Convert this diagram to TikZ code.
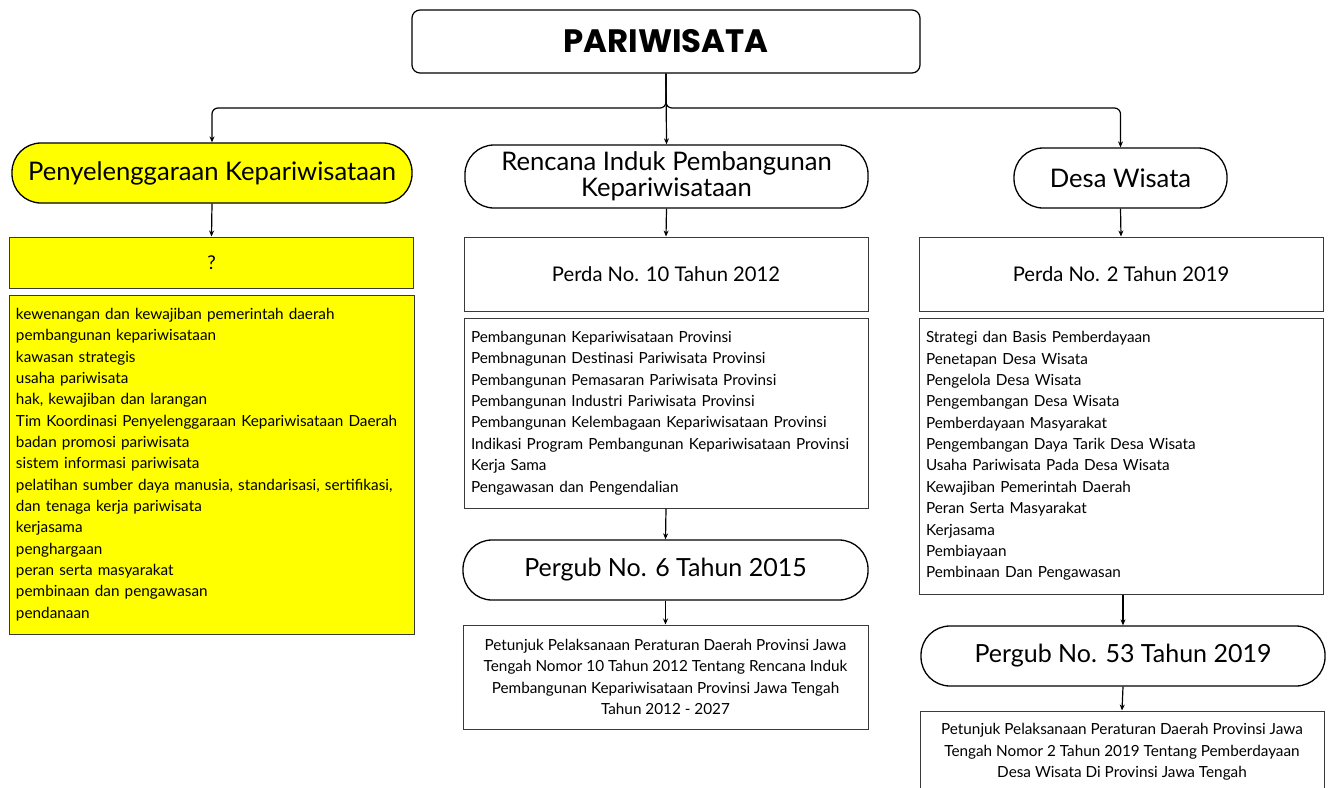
\documentclass[tikz,border=0pt]{standalone}
\usepackage{fontspec}
\setmainfont{Lato}
\newfontfamily\titlefont{Poppins}
\usetikzlibrary{arrows.meta}
\definecolor{ylw}{HTML}{FFFF00}
\definecolor{edge}{HTML}{3A3A3A}
\begin{document}
\begin{tikzpicture}[x=1pt,y=-1pt,
  arr/.style={-{Stealth[length=6pt,width=5pt]}, line width=1.2pt, black},
  oval/.style={draw=black, line width=1.3pt, rounded corners=29pt, inner sep=0pt, align=center},
  plainbox/.style={draw=edge, line width=1pt, inner sep=0pt, align=center},
  listbox/.style={draw=edge, line width=1pt, inner xsep=7pt, inner ysep=0pt, align=left,
     font=\fontsize{15.3}{21.36}\selectfont},
  headtxt/.style={font=\fontsize{25.6}{26}\selectfont},
  lawtxt/.style={font=\fontsize{20.2}{24}\selectfont},
  pergubtxt/.style={font=\fontsize{25}{28}\selectfont},
  notetxt/.style={font=\fontsize{15.3}{21.5}\selectfont}]
\clip (0,0) rectangle (1330,787);
\fill[white] (0,0) rectangle (1330,787);

% title
\node[draw=black, line width=1.2pt, rounded corners=8pt, minimum width=508pt, minimum height=63pt,
  font=\titlefont\bfseries\fontsize{32.4}{36}\selectfont] (title) at (666,41.5) {PARIWISATA};

% left column
\node[oval, fill=ylw, minimum width=400pt, minimum height=60pt, headtxt] (pk) at (212,173) {Penyelenggaraan Kepariwisataan};
\node[plainbox, fill=ylw, minimum width=404pt, minimum height=51pt, font=\fontsize{19}{22}\selectfont] (q) at (211.5,262.5) {?};
\node[listbox, fill=ylw, minimum width=405pt, minimum height=339pt, text width=391pt] (ql) at (211.5,464.5) {%
kewenangan dan kewajiban pemerintah daerah\\
pembangunan kepariwisataan\\
kawasan strategis\\
usaha pariwisata\\
hak, kewajiban dan larangan\\
Tim Koordinasi Penyelenggaraan Kepariwisataan Daerah\\
badan promosi pariwisata\\
sistem informasi pariwisata\\
pelatihan sumber daya manusia, standarisasi, sertifikasi,\\
dan tenaga kerja pariwisata\\
kerjasama\\
penghargaan\\
peran serta masyarakat\\
pembinaan dan pengawasan\\
pendanaan};

% middle column
\node[oval, minimum width=403pt, minimum height=63pt, font=\fontsize{25.6}{26}\selectfont] (rip) at (666.5,176.5) {Rencana Induk Pembangunan\\Kepariwisataan};
\node[plainbox, minimum width=404pt, minimum height=74pt, lawtxt] (p10) at (666,274) {Perda No. 10 Tahun 2012};
\node[listbox, minimum width=404pt, minimum height=190pt, text width=390pt] (l10) at (666,413) {%
Pembangunan Kepariwisataan Provinsi\\
Pembnagunan Destinasi Pariwisata Provinsi\\
Pembangunan Pemasaran Pariwisata Provinsi\\
Pembangunan Industri Pariwisata Provinsi\\
Pembangunan Kelembagaan Kepariwisataan Provinsi\\
Indikasi Program Pembangunan Kepariwisataan Provinsi\\
Kerja Sama\\
Pengawasan dan Pengendalian};
\node[oval, minimum width=405pt, minimum height=60pt, pergubtxt] (pg6) at (665.5,570) {Pergub No. 6 Tahun 2015};
\node[plainbox, minimum width=405pt, minimum height=104pt, notetxt] (n6) at (665.5,677) {%
Petunjuk Pelaksanaan Peraturan Daerah Provinsi Jawa\\
Tengah Nomor 10 Tahun 2012 Tentang Rencana Induk\\
Pembangunan Kepariwisataan Provinsi Jawa Tengah\\
Tahun 2012 - 2027};

% right column
\node[oval, minimum width=213pt, minimum height=60pt, headtxt] (dw) at (1120.5,178) {Desa Wisata};
\node[plainbox, minimum width=404pt, minimum height=74pt, lawtxt] (p2) at (1121,274) {Perda No. 2 Tahun 2019};
\node[listbox, minimum width=404pt, minimum height=276pt, text width=390pt] (l2) at (1121,456) {%
Strategi dan Basis Pemberdayaan\\
Penetapan Desa Wisata\\
Pengelola Desa Wisata\\
Pengembangan Desa Wisata\\
Pemberdayaan Masyarakat\\
Pengembangan Daya Tarik Desa Wisata\\
Usaha Pariwisata Pada Desa Wisata\\
Kewajiban Pemerintah Daerah\\
Peran Serta Masyarakat\\
Kerjasama\\
Pembiayaan\\
Pembinaan Dan Pengawasan};
\node[oval, minimum width=404pt, minimum height=60pt, pergubtxt] (pg53) at (1123,656) {Pergub No. 53 Tahun 2019};
\node[plainbox, minimum width=404pt, minimum height=82pt, notetxt] (n53) at (1122,752) {%
Petunjuk Pelaksanaan Peraturan Daerah Provinsi Jawa\\
Tengah Nomor 2 Tahun 2019 Tentang Pemberdayaan\\
Desa Wisata Di Provinsi Jawa Tengah};

% connectors
\coordinate (j) at (666,108);
\draw[arr, rounded corners=6pt] (title.south) -- (j) -| (pk.north);
\draw[arr, rounded corners=6pt] (title.south) -- (j) -| (dw.north);
\draw[arr] (title.south) -- (rip.north);
\draw[arr] (pk.south) -- (q.north);
\draw[arr] (rip.south) -- (p10.north);
\draw[arr] (l10.south) -- (pg6.north);
\draw[arr] (pg6.south) -- (n6.north);
\draw[arr] (dw.south) -- (p2.north);
\draw[arr] (l2.south -| pg53.north) -- (pg53.north);
\draw[arr] (pg53.south) -- (n53.north);
\end{tikzpicture}
\end{document}
